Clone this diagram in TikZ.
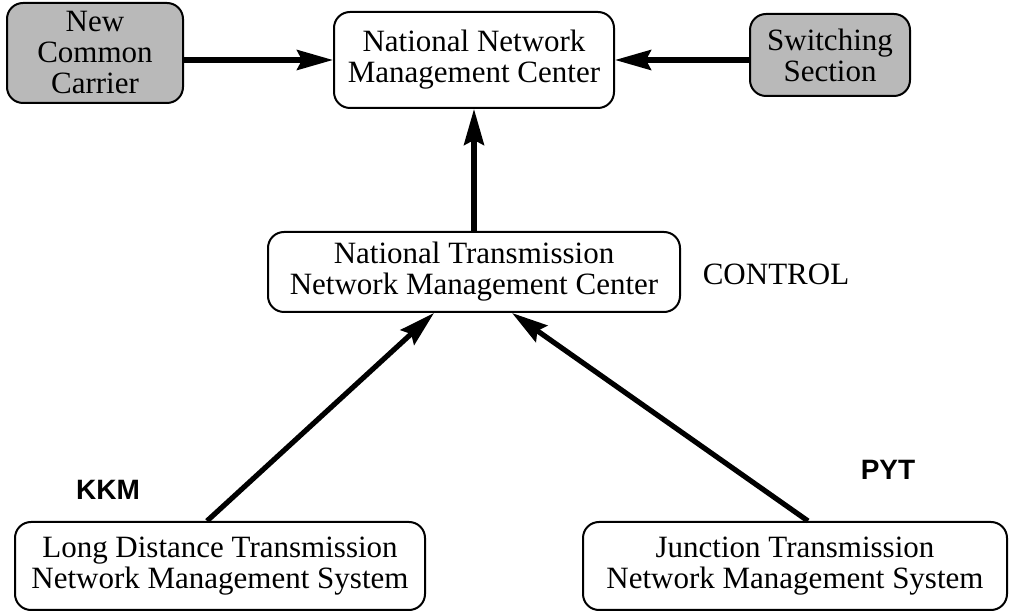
\documentclass[tikz,border=0pt]{standalone}
\usepackage{fontspec}
\setmainfont{Liberation Serif}
\newfontfamily\tagfont{Liberation Sans}
\usepackage{tikz}
\usetikzlibrary{arrows.meta, positioning}
\definecolor{shadegray}{RGB}{185, 185, 185}

\tikzset{
  box/.style={draw, line width=1pt, rounded corners=8pt, align=center,
              inner sep=0pt, font=\fontsize{15.5}{15.5}\selectfont},
  shadedbox/.style={box, fill=shadegray},
  conn/.style={line width=2.6pt, -{Stealth[length=18pt, width=10pt, inset=2.5pt]}},
  tag/.style={font=\tagfont\bfseries\fontsize{14}{14}\selectfont}
}

\begin{document}
\begin{tikzpicture}[x=0.5pt, y=-0.5pt]
\useasboundingbox (0,0) rectangle (1013,614);

% Top row
\node[shadedbox, minimum width=88pt, minimum height=50pt] (ncc) at (95,53)
    {New\\Common\\Carrier};
\node[box, minimum width=140pt, minimum height=48pt] (nnmc) at (474,60)
    {National Network\\Management Center};
\node[shadedbox, minimum width=80pt, minimum height=41pt] (sw) at (830,55)
    {Switching\\Section};

% Middle
\node[box, minimum width=206pt, minimum height=40pt] (ntnmc) at (474,272)
    {National Transmission\\Network Management Center};
\node[font=\fontsize{15.5}{15.5}\selectfont] (ctrl) at (776,274) {CONTROL};

% Bottom row
\node[box, minimum width=205pt, minimum height=44pt] (ldt) at (220,566)
    {Long Distance Transmission\\Network Management System};
\node[box, minimum width=212pt, minimum height=44pt] (jt) at (795,566)
    {Junction Transmission\\Network Management System};
\node[tag] (kkm) at (108,490) {KKM};
\node[tag] (pyt) at (888,470) {PYT};

% Arrows
\draw[conn] (ncc.east |- nnmc.west) -- (nnmc.west);
\draw[conn] (sw.west |- nnmc.east) -- (nnmc.east);
\draw[conn] (ntnmc.north) -- (nnmc.south);
\draw[conn] ([xshift=-6.5pt]ldt.north) -- ([xshift=-20pt]ntnmc.south);
\draw[conn] ([xshift=6.5pt]jt.north) -- ([xshift=19pt]ntnmc.south);

\end{tikzpicture}
\end{document}
